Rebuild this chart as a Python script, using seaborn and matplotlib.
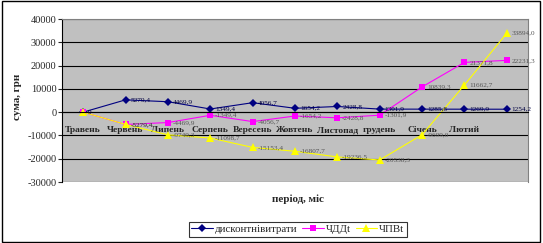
import matplotlib
matplotlib.use("Agg")
import matplotlib.pyplot as plt
import seaborn as sns
import pandas as pd
import numpy as np
from matplotlib.lines import Line2D
from matplotlib.patches import Rectangle

categories = ["Травень", "Червень", "Липень", "Серпень", "Вересень", "Жовтень",
              "Листопад", "грудень", "Січень", "Лютий", ""]
disc_costs = [0, 5279.4, 4469.9, 1349.4, 4056.7, 1654.2, 2428.8, 1301.9, 1285.8, 1269.9, 1254.2]
chdd = [0, -5279.4, -4469.9, -1349.4, -4056.7, -1654.2, -2428.8, -1301.9, 10839.3, 21371.8, 22231.3]
chpv = [0, -5279.4, -9749.3, -11098.7, -15153.4, -16807.7, -19236.5, -20538.3, -9699.0, 11662.7, 33894.0]
series_names = ["дисконтнівитрати", "ЧДДt", "ЧПВt"]
y_ticks = [40000, 30000, 20000, 10000, 0, -10000, -20000, -30000]

colors = {"дисконтнівитрати": "#000080", "ЧДДt": "#FF00FF", "ЧПВt": "#FFFF00"}
markers = {"дисконтнівитрати": "D", "ЧДДt": "s", "ЧПВt": "^"}
msize = {"дисконтнівитрати": 4.2, "ЧДДt": 4.6, "ЧПВt": 5.2}
label_colors = {"дисконтнівитрати": "#000040", "ЧДДt": "#555555", "ЧПВt": "#555555"}

rows = []
for name, vals in zip(series_names, [disc_costs, chdd, chpv]):
    for i, v in enumerate(vals):
        rows.append({"idx": i, "value": v, "series": name})
df = pd.DataFrame(rows)

sns.set_style("white")
serif = ["Liberation Serif", "DejaVu Serif"]
plt.rcParams["font.family"] = serif

fig = plt.figure(figsize=(5.43, 2.43), dpi=100)
ax = fig.add_axes([62/543, 1-182/243, (528-62)/543, (182-19)/243])
ax.set_facecolor("#C0C0C0")

sns.lineplot(data=df, x="idx", y="value", hue="series", style="series",
             hue_order=series_names, style_order=series_names,
             palette=colors, markers=markers, dashes=False,
             linewidth=0.8, markeredgewidth=0, ax=ax, legend=False, sort=False)

for line, name in zip(ax.lines, series_names):
    line.set_markersize(msize[name])

ax.set_xlim(-0.5, len(categories) - 0.5)
ax.set_ylim(-30000, 40000)
ax.set_yticks(y_ticks)
ax.set_yticklabels([str(t) for t in y_ticks], fontsize=7.5)
for t in y_ticks:
    ax.axhline(t, color="black", lw=0.8, zorder=0.5)

ax.spines["bottom"].set_position(("data", 0))
ax.spines["bottom"].set_color("black")
ax.spines["bottom"].set_linewidth(0.8)
ax.spines["left"].set_color("black")
ax.spines["left"].set_linewidth(0.8)
for s in ["top", "right"]:
    ax.spines[s].set_color("#808080")
    ax.spines[s].set_linewidth(0.8)

ax.set_xticks(range(len(categories)))
ax.set_xticklabels(categories, fontsize=6.8, fontweight="bold")
ax.set_xticks(np.arange(-0.5, len(categories), 1), minor=True)
ax.tick_params(axis="x", which="major", length=0, pad=10)
ax.tick_params(axis="x", which="minor", length=3.5, width=0.8, direction="out", color="black")
ax.tick_params(axis="y", which="major", length=3, width=0.8, direction="out", left=True, pad=1)
ax.set_xlabel("")
ax.set_ylabel("")

def fmt(v):
    if v == 0:
        return "0"
    return f"{v:.1f}".replace(".", ",")

for name, vals in zip(series_names, [disc_costs, chdd, chpv]):
    for i, v in enumerate(vals):
        if v == 0 and name != "дисконтнівитрати":
            continue
        ax.annotate(fmt(v), (i, v), xytext=(3.5, 0), textcoords="offset points",
                    fontsize=5.2, color=label_colors[name], va="center", ha="left")

fig.text(18/543, 1-97/243, "сума, грн", rotation=90, ha="center", va="center",
         fontsize=8, fontweight="bold")
fig.text(298/543, 1-199/243, "період, міс", ha="center", va="center",
         fontsize=8, fontweight="bold")

handles = [Line2D([0], [0], color=colors[n], marker=markers[n], markersize=msize[n],
                  markeredgewidth=0, lw=0.8) for n in series_names]
leg = fig.legend(handles, series_names, loc="center", bbox_to_anchor=(298/543, 1-229/243),
                 ncol=3, fontsize=7.8, frameon=True, fancybox=False, edgecolor="black",
                 handlelength=2.0, handletextpad=0.2, columnspacing=0.4,
                 borderpad=0.25, borderaxespad=0)
leg.get_frame().set_linewidth(0.8)

fig.patches.append(Rectangle((0.004, 0.006), 0.991, 0.988, transform=fig.transFigure,
                             fill=False, edgecolor="black", lw=1.0))

fig.savefig("out.png", dpi=100, facecolor="white")
